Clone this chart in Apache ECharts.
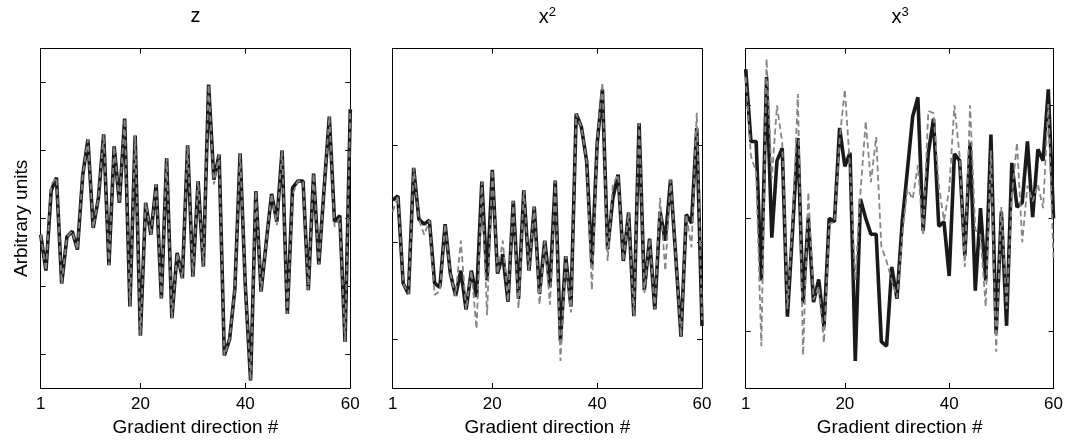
<!DOCTYPE html>
<html>
<head>
<meta charset="utf-8">
<script src="https://cdn.jsdelivr.net/npm/echarts@6/dist/echarts.min.js"></script>
<style>
html,body{margin:0;padding:0;background:#fff;}
#c{width:1066px;height:442px;}
</style>
</head>
<body>
<div id="c"></div>
<script>
// ---- data (arbitrary units; ticks at integer values) ----
const directions = Array.from({length: 60}, (_, i) => i + 1);
const xTickValues = [1, 20, 40, 60];

const zSolid = [1.76,1.23,2.41,2.60,1.04,1.73,1.81,1.54,2.63,3.16,
  1.86,2.30,3.24,1.31,3.06,2.23,3.47,0.70,3.22,0.27,
  2.23,1.76,2.50,0.82,2.89,0.53,1.49,1.12,3.08,1.14,
  2.55,1.29,3.97,2.57,2.94,-0.02,0.22,0.96,2.96,1.00,
  -0.39,2.40,0.92,1.66,2.36,1.95,3.00,0.59,2.45,2.55,
  2.55,0.94,2.66,1.32,2.43,3.50,1.95,2.04,0.18,3.61];
const zDashed = [1.76,1.23,2.50,2.60,1.04,1.73,1.81,1.54,2.63,3.16,
  1.86,2.30,3.24,1.31,3.06,2.23,3.47,0.70,3.22,0.27,
  2.23,1.76,2.50,0.82,2.89,0.53,1.49,1.12,3.08,1.14,
  2.55,1.29,3.97,2.50,2.94,-0.02,0.22,0.96,2.96,1.00,
  -0.39,2.40,0.92,1.66,2.36,1.90,3.00,0.59,2.35,2.55,
  2.55,0.94,2.66,1.32,2.43,3.50,1.88,2.00,0.18,3.61];

const x2Solid = [1.44,1.48,0.58,0.47,1.77,1.24,1.19,1.23,0.58,0.54,
  1.19,0.68,0.45,0.71,0.31,0.71,0.44,1.63,0.61,1.75,
  0.68,0.88,0.39,1.43,0.42,1.54,0.71,1.37,0.47,1.02,
  0.54,1.64,-0.02,0.86,0.34,2.33,2.19,1.84,0.77,2.02,
  2.58,0.93,1.46,1.70,0.81,1.31,0.24,2.23,0.51,1.04,
  0.31,1.32,1.02,1.65,0.85,0.03,1.29,1.20,2.18,0.14];
const x2Dashed = [1.32,1.48,0.58,0.47,1.77,1.24,1.08,1.23,0.46,0.50,
  1.19,0.68,0.45,1.02,0.31,0.71,0.11,1.63,0.25,1.75,
  0.68,1.02,0.39,1.43,0.32,1.54,0.71,1.37,0.36,1.02,
  0.36,1.64,-0.22,0.86,0.28,2.33,2.19,1.84,0.51,2.02,
  2.65,0.81,1.60,1.70,0.81,1.31,0.24,2.23,0.48,1.04,
  0.31,1.46,0.71,1.65,0.85,0.03,1.29,0.95,2.34,0.20];

const x3Solid = [2.32,1.68,1.68,0.45,2.25,0.83,1.51,1.62,0.13,0.91,
  1.71,0.25,1.01,0.26,0.46,0.04,1.00,0.97,1.80,1.46,
  1.58,-0.26,1.17,1.00,0.86,0.86,-0.09,-0.13,0.57,0.29,
  0.97,1.43,1.90,2.07,0.89,1.58,1.88,0.93,0.97,0.49,
  1.57,1.51,0.67,1.67,0.36,1.09,0.45,1.74,-0.02,1.06,
  0.05,1.49,1.10,1.14,1.68,1.01,1.61,1.51,2.14,1.00];
const x3Dashed = [2.25,1.55,1.41,-0.13,2.41,1.35,2.00,1.67,0.20,0.95,
  2.10,-0.21,1.23,0.28,0.40,-0.10,0.95,0.97,1.70,2.14,
  1.45,0.45,1.23,1.86,1.32,1.72,0.75,0.62,0.45,0.30,
  0.85,1.26,1.17,1.47,0.85,1.95,1.93,1.30,0.98,1.25,
  2.00,1.55,0.57,2.00,0.90,0.85,0.22,1.60,-0.18,1.10,
  0.20,1.20,1.67,0.79,1.29,1.15,1.30,1.09,2.01,0.62];

const panels = [
  {title: 'z', solid: zSolid, dashed: zDashed, yMin: -0.5, yMax: 4.5, yTicks: [0,1,2,3,4]},
  {title: '{b|x}{s|2}', solid: x2Solid, dashed: x2Dashed, yMin: -0.5, yMax: 3, yTicks: [0,1,2]},
  {title: '{b|x}{s|3}', solid: x3Solid, dashed: x3Dashed, yMin: -0.5, yMax: 2.5, yTicks: [0,1,2]}
];

// ---- layout ----
const FONT = 'Liberation Sans, Arial, Helvetica, sans-serif';
const gridBoxes = [
  {left: 40.7, top: 48.7, width: 309.6, height: 344.6},
  {left: 392.7, top: 48.7, width: 309.3, height: 344.6},
  {left: 745.7, top: 48.7, width: 308.6, height: 344.6}
];

const grid = [], xAxis = [], yAxis = [], series = [], title = [];
const axisLine = {show: true, onZero: false, lineStyle: {color: '#000', width: 1}};

panels.forEach((p, k) => {
  grid.push(Object.assign({containLabel: false}, gridBoxes[k]));
  const cx = gridBoxes[k].left + gridBoxes[k].width / 2;
  title.push({
    text: p.title, left: cx, top: 6, textAlign: 'center', padding: 0,
    textStyle: {
      fontFamily: FONT, fontSize: 20, fontWeight: 'normal', color: '#000',
      rich: {
        b: {fontFamily: FONT, fontSize: 20, color: '#000'},
        s: {fontFamily: FONT, fontSize: 13, color: '#000', verticalAlign: 'top', padding: [0, 0, 10, 0]}
      }
    }
  });
  // bottom x
  xAxis.push({
    type: 'value', gridIndex: k, min: 1, max: 60, position: 'bottom',
    name: 'Gradient direction #', nameLocation: 'middle', nameGap: 30,
    nameTextStyle: {fontFamily: FONT, fontSize: 19, color: '#000'},
    axisLine: axisLine,
    axisTick: {show: true, inside: true, length: 5, customValues: xTickValues, lineStyle: {color: '#000'}},
    axisLabel: {show: true, customValues: xTickValues, fontFamily: FONT, fontSize: 17, color: '#000', margin: 8, showMinLabel: true, showMaxLabel: true},
    splitLine: {show: false}
  });
  // top x (ticks only)
  xAxis.push({
    type: 'value', gridIndex: k, min: 1, max: 60, position: 'top',
    axisLine: axisLine,
    axisTick: {show: true, inside: true, length: 5, customValues: xTickValues, lineStyle: {color: '#000'}},
    axisLabel: {show: false},
    splitLine: {show: false}
  });
  // left y
  yAxis.push({
    type: 'value', gridIndex: k, min: p.yMin, max: p.yMax, position: 'left',
    name: k === 0 ? 'Arbitrary units' : '', nameLocation: 'middle', nameGap: 9,
    nameTextStyle: {fontFamily: FONT, fontSize: 19, color: '#000'},
    axisLine: axisLine,
    axisTick: {show: true, inside: true, length: 5, customValues: p.yTicks, lineStyle: {color: '#000'}},
    axisLabel: {show: false},
    splitLine: {show: false}
  });
  // right y
  yAxis.push({
    type: 'value', gridIndex: k, min: p.yMin, max: p.yMax, position: 'right',
    axisLine: axisLine,
    axisTick: {show: true, inside: true, length: 5, customValues: p.yTicks, lineStyle: {color: '#000'}},
    axisLabel: {show: false},
    splitLine: {show: false}
  });
  series.push({
    type: 'line', xAxisIndex: 2 * k, yAxisIndex: 2 * k,
    data: directions.map((d, i) => [d, p.solid[i]]),
    showSymbol: false, symbol: 'none', smooth: false,
    lineStyle: {color: '#1a1a1a', width: 3.6},
    z: 2, silent: true
  });
  series.push({
    type: 'line', xAxisIndex: 2 * k, yAxisIndex: 2 * k,
    data: directions.map((d, i) => [d, p.dashed[i]]),
    showSymbol: false, symbol: 'none', smooth: false,
    lineStyle: {color: '#858585', width: 1.8, type: [6, 3.5]},
    z: 3, silent: true
  });
});

const chart = echarts.init(document.getElementById('c'), null, {renderer: 'canvas'});
chart.setOption({
  animation: false,
  backgroundColor: '#fff',
  title, grid, xAxis, yAxis, series
});
</script>
</body>
</html>
